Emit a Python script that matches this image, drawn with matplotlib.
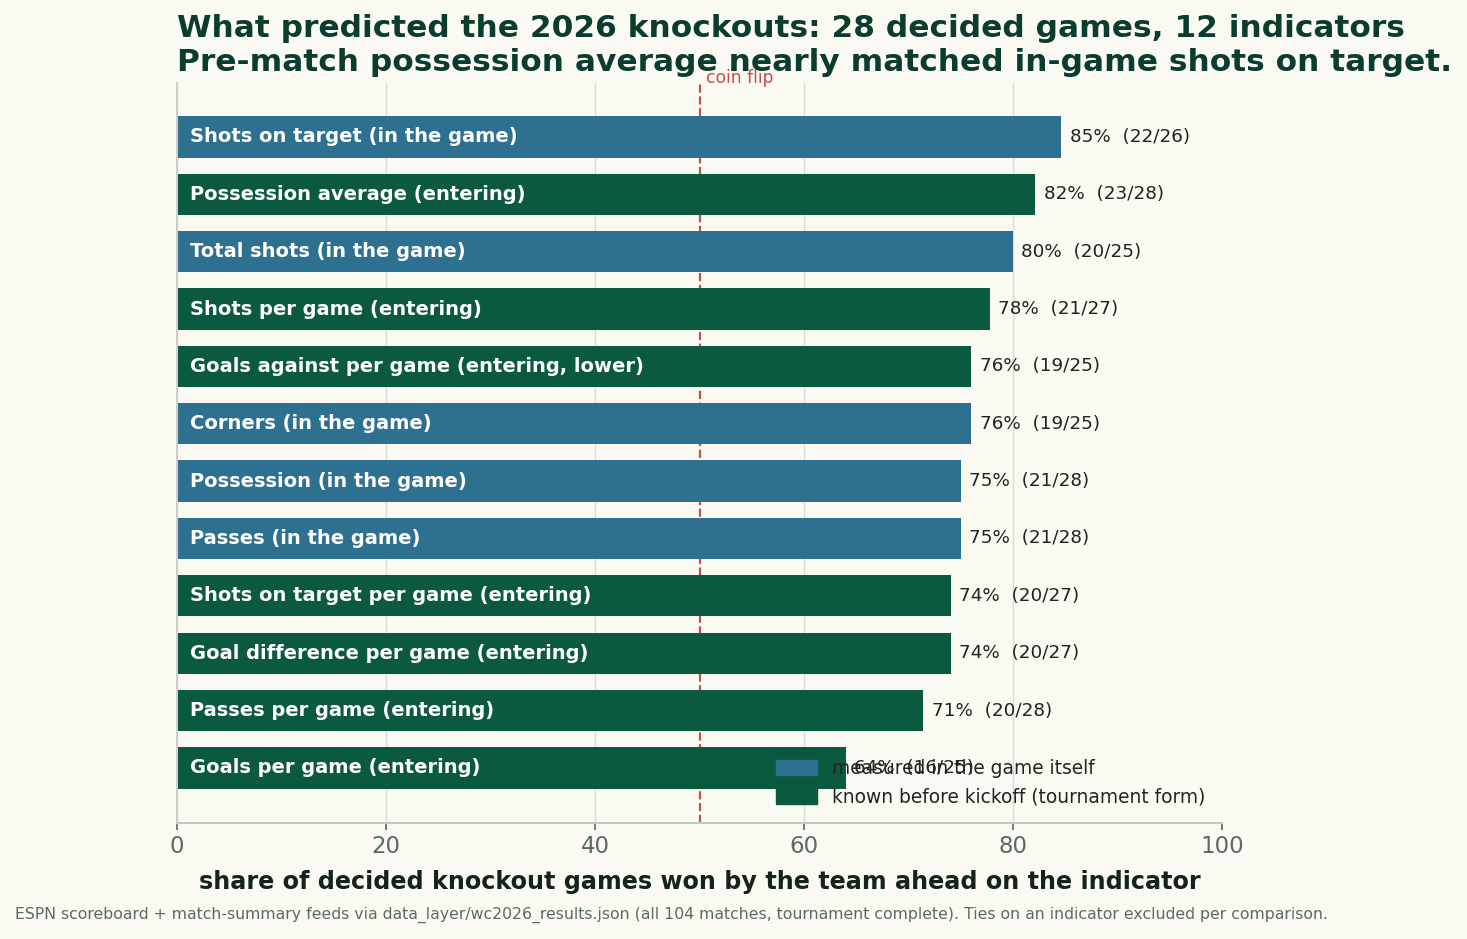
import matplotlib.pyplot as plt
from matplotlib.patches import Patch

# indicators, top to bottom
labels = [
    "Shots on target (in the game)",
    "Possession average (entering)",
    "Total shots (in the game)",
    "Shots per game (entering)",
    "Goals against per game (entering, lower)",
    "Corners (in the game)",
    "Possession (in the game)",
    "Passes (in the game)",
    "Shots on target per game (entering)",
    "Goal difference per game (entering)",
    "Passes per game (entering)",
    "Goals per game (entering)",
]
wins = [22, 23, 20, 21, 19, 19, 21, 21, 20, 20, 20, 16]
games = [26, 28, 25, 27, 25, 25, 28, 28, 27, 27, 28, 25]
in_game = [True, False, True, False, False, True, True, True, False, False, False, False]

BG = "#fbfaf2"
BLUE = "#2e7090"
GREEN = "#0b5a40"
DARK = "#0a3d2e"
RED = "#c0504d"

pct = [100 * w / g for w, g in zip(wins, games)]
colors = [BLUE if g else GREEN for g in in_game]

fig = plt.figure(figsize=(14.67, 9.39), dpi=100, facecolor=BG)
ax = fig.add_axes([177 / 1467, 1 - 823 / 939, (1222 - 177) / 1467, (823 - 83) / 939])
ax.set_facecolor(BG)

y = list(range(len(labels)))
ax.barh(y, pct, height=0.72, color=colors, zorder=2)

for i, (p, w, g, lab) in enumerate(zip(pct, wins, games, labels)):
    ax.text(1.2, i, lab, va="center", ha="left", color="white",
            fontsize=14, fontweight="bold", zorder=3)
    ax.text(p + 0.8, i, f"{round(p)}%  ({w}/{g})", va="center", ha="left",
            color="#222222", fontsize=13.2, zorder=3)

ax.axvline(50, color=RED, linestyle="--", linewidth=1.6, zorder=1)
ax.text(50.6, -1.03, "coin flip", color=RED, fontsize=12.3, ha="left", va="center")

ax.set_xlim(0, 100)
ax.set_ylim(11.96, -0.94)
ax.set_yticks([])
ax.set_xticks([0, 20, 40, 60, 80, 100])
ax.tick_params(axis="x", labelsize=16.5, colors="#5a6a66", length=5, width=1.2)
ax.grid(axis="x", color="#dcdcd6", linewidth=1, zorder=0)
for s in ["top", "right"]:
    ax.spines[s].set_visible(False)
ax.spines["left"].set_color("#cfcfca")
ax.spines["left"].set_linewidth(1.5)
ax.spines["bottom"].set_color("#c4c8c4")
ax.spines["bottom"].set_linewidth(1.5)

ax.set_xlabel("share of decided knockout games won by the team ahead on the indicator",
              fontsize=17.2, fontweight="bold", color="#15231d", labelpad=9)

handles = [Patch(color=BLUE, label="measured in the game itself"),
           Patch(color=GREEN, label="known before kickoff (tournament form)")]
ax.legend(handles=handles, loc="lower right", frameon=False, fontsize=13.4,
          labelcolor="#222222", handlelength=2.2, handleheight=0.9)

fig.text(177 / 1467, 1 - 14 / 939,
         "What predicted the 2026 knockouts: 28 decided games, 12 indicators\n"
         "Pre-match possession average nearly matched in-game shots on target.",
         fontsize=22.5, fontweight="bold", color=DARK, ha="left", va="top",
         linespacing=1.2)
fig.text(15 / 1467, 1 - 915 / 939,
         "ESPN scoreboard + match-summary feeds via data_layer/wc2026_results.json "
         "(all 104 matches, tournament complete). Ties on an indicator excluded per comparison.",
         fontsize=11.3, color="#5a6a66", ha="left", va="center")

fig.savefig("out.png", dpi=100, facecolor=BG)
